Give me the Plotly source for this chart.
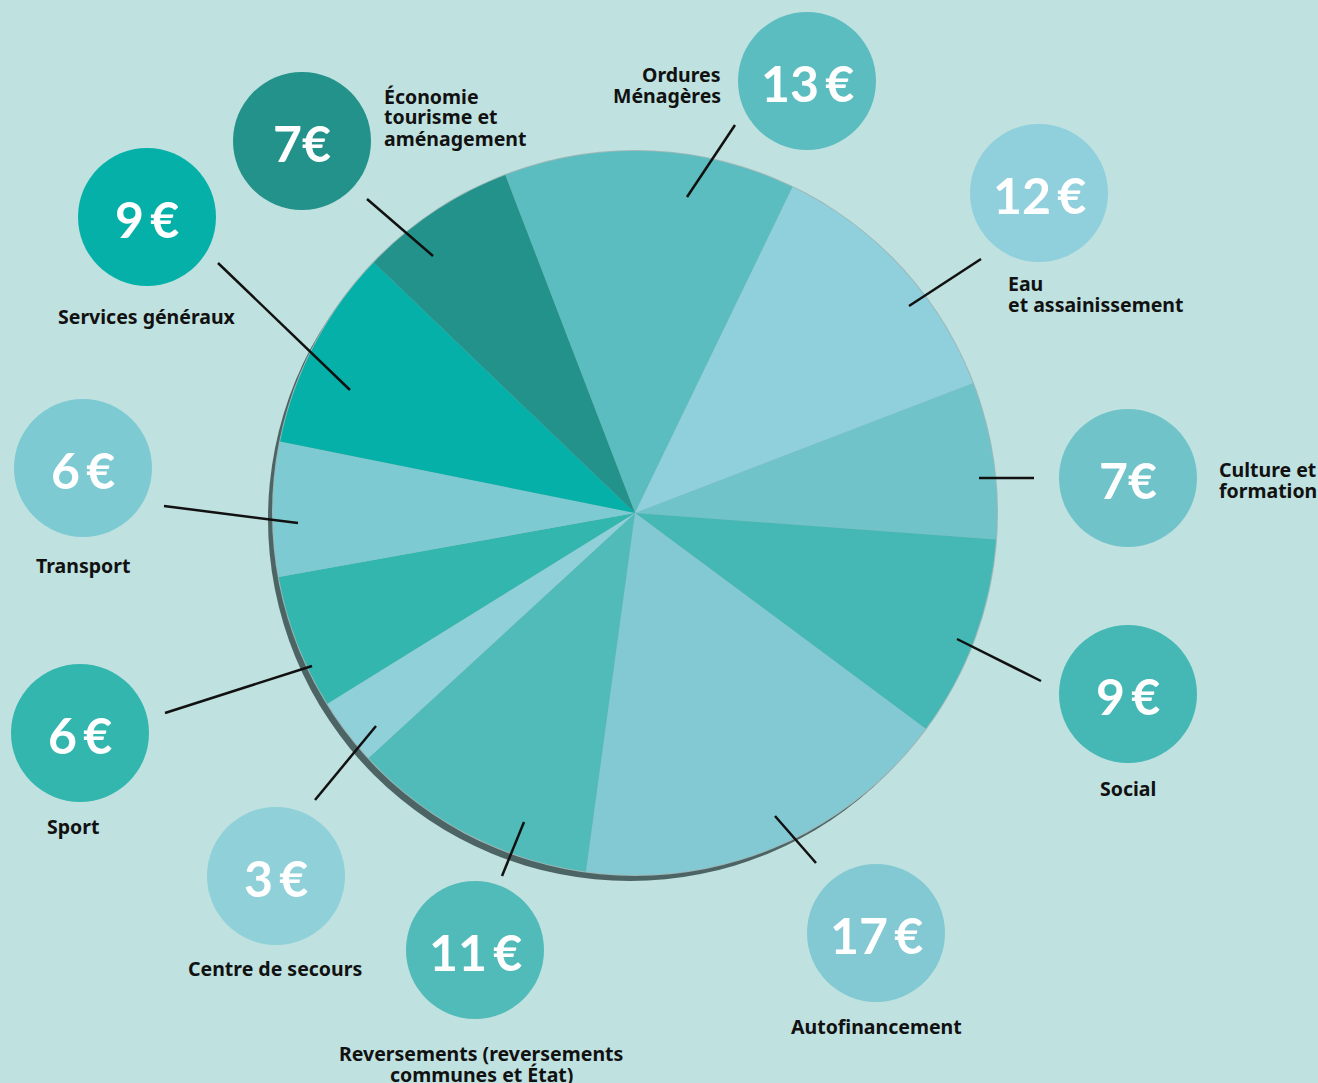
import plotly.graph_objects as go

W, H = 1318, 1083

# ---- data ----
categories = [
    "Ordures Ménagères", "Eau et assainissement", "Culture et formation", "Social",
    "Autofinancement", "Reversements (reversements communes et État)", "Centre de secours",
    "Sport", "Transport", "Services généraux", "Économie tourisme et aménagement",
]
values = [13, 12, 7, 9, 17, 11, 3, 6, 6, 9, 7]
label_lines = [
    ["Ordures", "Ménagères"], ["Eau", "et assainissement"], ["Culture et", "formation"], ["Social"],
    ["Autofinancement"], ["Reversements (reversements", "communes et État)"], ["Centre de secours"],
    ["Sport"], ["Transport"], ["Services généraux"], ["Économie", "tourisme et", "aménagement"],
]
value_texts = ["13\u2009€", "12\u2009€", "7€", "9\u2009€", "17\u2009€", "11\u2009€", "3\u2009€",
               "6\u2009€", "6\u2009€", "9\u2009€", "7€"]

# ---- styles / layout positions (pixels) ----
colors = ["#5bbdbf", "#90cfdc", "#70c4c9", "#45b8b5", "#82c9d3", "#50bbb9",
          "#8fd0d9", "#33b6ae", "#7ecad3", "#05b0a8", "#23928a"]
bubble_pos = [(807, 81), (1039, 193), (1128, 478), (1128, 694), (876, 933), (475, 950),
              (276, 876), (80, 733), (83, 468), (147, 217), (302, 141)]
label_pos = [(722, 85, "right"), (1007, 294, "left"), (1218, 480, "left"), (1128, 788, "center"),
             (876, 1026, "center"), (481, 1064, "center"), (275, 968, "center"),
             (73, 826, "center"), (83, 565, "center"), (147, 316, "center"),
             (383, 117, "left")]
leader_lines = [((735, 125), (687, 197)), ((981, 259), (909, 306)), ((1034, 478), (979, 478)),
                ((1041, 681), (957, 639)), ((816, 863), (775, 816)), ((502, 876), (524, 822)),
                ((315, 800), (376, 726)), ((165, 713), (312, 666)), ((164, 506), (298, 523)),
                ((218, 263), (350, 390)), ((367, 199), (433, 256))]
CX, CY, R = 635, 513, 362
BR = 69
LINE_H = 21


def px(x, y):
    return x / W, 1 - y / H


fig = go.Figure()
x0, y1 = px(CX - R, CY - R)
x1, y0 = px(CX + R, CY + R)
fig.add_trace(go.Pie(
    labels=categories, values=values, sort=False, direction="clockwise", rotation=-21,
    marker=dict(colors=colors, line=dict(width=0)), textinfo="none", hoverinfo="label+value",
    domain=dict(x=[x0, x1], y=[y0, y1]), showlegend=False,
))

shapes = []
# shadow behind pie
sx0, sy1 = px(CX - R - 5, CY - R + 6)
sx1, sy0 = px(CX + R - 5, CY + R + 6)
shapes.append(dict(type="circle", xref="paper", yref="paper", x0=sx0, x1=sx1, y0=sy0, y1=sy1,
                   fillcolor="#4d6464", line=dict(width=0), layer="below"))
# soft gray outline
ox0, oy1 = px(CX - R - 1, CY - R - 1)
ox1, oy0 = px(CX + R + 1, CY + R + 1)
shapes.append(dict(type="circle", xref="paper", yref="paper", x0=ox0, x1=ox1, y0=oy0, y1=oy1,
                   fillcolor="#9cb8b8", line=dict(width=0), layer="below"))

annotations = []
for i in range(len(values)):
    bx, by = bubble_pos[i]
    a0, b1 = px(bx - BR, by - BR)
    a1, b0 = px(bx + BR, by + BR)
    shapes.append(dict(type="circle", xref="paper", yref="paper", x0=a0, x1=a1, y0=b0, y1=b1,
                       fillcolor=colors[i], line=dict(width=0), layer="above"))
    (lx0, ly0), (lx1, ly1) = leader_lines[i]
    p0 = px(lx0, ly0)
    p1 = px(lx1, ly1)
    shapes.append(dict(type="line", xref="paper", yref="paper", x0=p0[0], y0=p0[1],
                       x1=p1[0], y1=p1[1], line=dict(color="#111111", width=2.5), layer="above"))
    tx, ty = px(bx, by + 2)
    annotations.append(dict(x=tx, y=ty, xref="paper", yref="paper", text=value_texts[i],
                            showarrow=False, xanchor="center", yanchor="middle",
                            font=dict(family="Lato", size=50, color="white", weight="bold")))
    lx, ly, al = label_pos[i]
    lines = label_lines[i]
    n = len(lines)
    for j, line in enumerate(lines):
        yy = ly + (j - (n - 1) / 2) * LINE_H
        qx, qy = px(lx, yy)
        annotations.append(dict(x=qx, y=qy, xref="paper", yref="paper", text=line,
                                showarrow=False, xanchor=al, yanchor="middle", align=al,
                                borderpad=0,
                                font=dict(family="Noto Sans", size=19.5, color="#111111",
                                          weight="bold")))

fig.update_layout(
    width=W, height=H, margin=dict(l=0, r=0, t=0, b=0),
    paper_bgcolor="#bfe1df", plot_bgcolor="#bfe1df",
    shapes=shapes, annotations=annotations,
)
fig.write_html("out.html", config={"displayModeBar": False},
               post_script="document.body.style.margin='0';document.body.style.overflow='hidden';")
